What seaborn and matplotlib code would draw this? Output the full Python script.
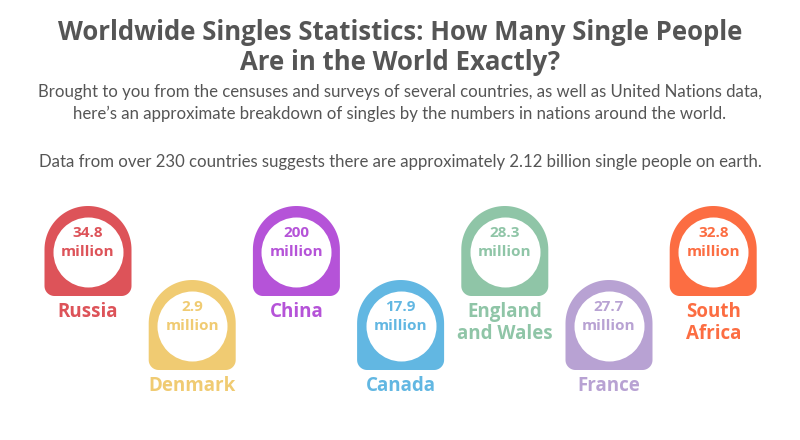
"""
Infographie : nombre de celibataires par pays (badges colores).
"""

import matplotlib
import numpy as np
import pandas as pd
import seaborn as sns
from matplotlib.patches import Polygon

matplotlib.use("Agg")
import matplotlib.pyplot as plt


TITLE = "Worldwide Singles Statistics: How Many Single People\nAre in the World Exactly?"
SUBTITLE = [
    "Brought to you from the censuses and surveys of several countries, as well as United Nations data,",
    "here\u2019s an approximate breakdown of singles by the numbers in nations around the world.",
]
NOTE = "Data from over 230 countries suggests there are approximately 2.12 billion single people on earth."

countries = ["Russia", "Denmark", "China", "Canada", "England\nand Wales", "France", "South\nAfrica"]
values = ["34.8", "2.9", "200", "17.9", "28.3", "27.7", "32.8"]
rows = [0, 1, 0, 1, 0, 1, 0]
palette = ["#dd5359", "#f0cb72", "#b553d8", "#62b7e2", "#8fc5a7", "#b8a2d3", "#fc6d42"]

TEXT_COLOR = "#555555"
BOLD_FONT = ["Open Sans", "DejaVu Sans"]

X0, DX = 88, 104.2
TOP0, DROW = 206, 74
W, H = 87, 90
CORNER = 10
CIRCLE_R = 35


def badge_outline(cx: float, top: float) -> np.ndarray:
    r = W / 2
    cy = top + r
    bottom = top + H
    pts = []
    for t in np.linspace(np.pi, 0, 60):
        pts.append((cx + r * np.cos(t), cy - r * np.sin(t)))
    # coin bas droit
    for t in np.linspace(0, np.pi / 2, 15):
        pts.append((cx + r - CORNER + CORNER * np.cos(t), bottom - CORNER + CORNER * np.sin(t)))
    # coin bas gauche
    for t in np.linspace(np.pi / 2, np.pi, 15):
        pts.append((cx - r + CORNER + CORNER * np.cos(t), bottom - CORNER + CORNER * np.sin(t)))
    return np.array(pts)


def main() -> None:
    sns.set_theme(style="white")
    plt.rcParams["font.family"] = ["Lato", "DejaVu Sans"]

    df = pd.DataFrame({"country": countries, "value": values, "row": rows, "color": palette})
    df["x"] = X0 + DX * np.arange(len(df))
    df["top"] = TOP0 + DROW * df["row"]
    df["cy"] = df["top"] + 46

    fig = plt.figure(figsize=(8, 4.4), dpi=100)
    ax = fig.add_axes([0, 0, 1, 1])

    ax.text(400, 33, TITLE.split("\n")[0], ha="center", va="center", fontsize=18.5,
            fontweight="bold", color=TEXT_COLOR, family=BOLD_FONT)
    ax.text(400, 62, TITLE.split("\n")[1], ha="center", va="center", fontsize=18.5,
            fontweight="bold", color=TEXT_COLOR, family=BOLD_FONT)
    for i, line in enumerate(SUBTITLE):
        ax.text(400, 92 + 22 * i, line, ha="center", va="center", fontsize=12.1, color=TEXT_COLOR)
    ax.text(400, 162, NOTE, ha="center", va="center", fontsize=12.1, color=TEXT_COLOR)

    for _, row in df.iterrows():
        ax.add_patch(Polygon(badge_outline(row["x"], row["top"]), closed=True,
                             facecolor=row["color"], edgecolor="none", zorder=2))

    size = (2 * CIRCLE_R * 72 / 100) ** 2
    sns.scatterplot(data=df, x="x", y="cy", s=size, color="white", linewidth=0, ax=ax,
                    zorder=3, legend=False)
    ax.set_xlim(0, 800)
    ax.set_ylim(440, 0)
    ax.axis("off")

    for _, row in df.iterrows():
        ax.text(row["x"], row["top"] + 27, row["value"], ha="center", va="center", fontsize=11,
                fontweight="bold", color=row["color"], zorder=4, family=BOLD_FONT)
        ax.text(row["x"], row["top"] + 46, "million", ha="center", va="center", fontsize=11,
                fontweight="bold", color=row["color"], zorder=4, family=BOLD_FONT)
        ax.text(row["x"], row["top"] + 96, row["country"], ha="center", va="top", fontsize=13.5,
                fontweight="bold", color=row["color"], linespacing=1.15, family=BOLD_FONT)

    fig.savefig("out.png", dpi=100, facecolor="white")
    plt.close(fig)


if __name__ == "__main__":
    main()
